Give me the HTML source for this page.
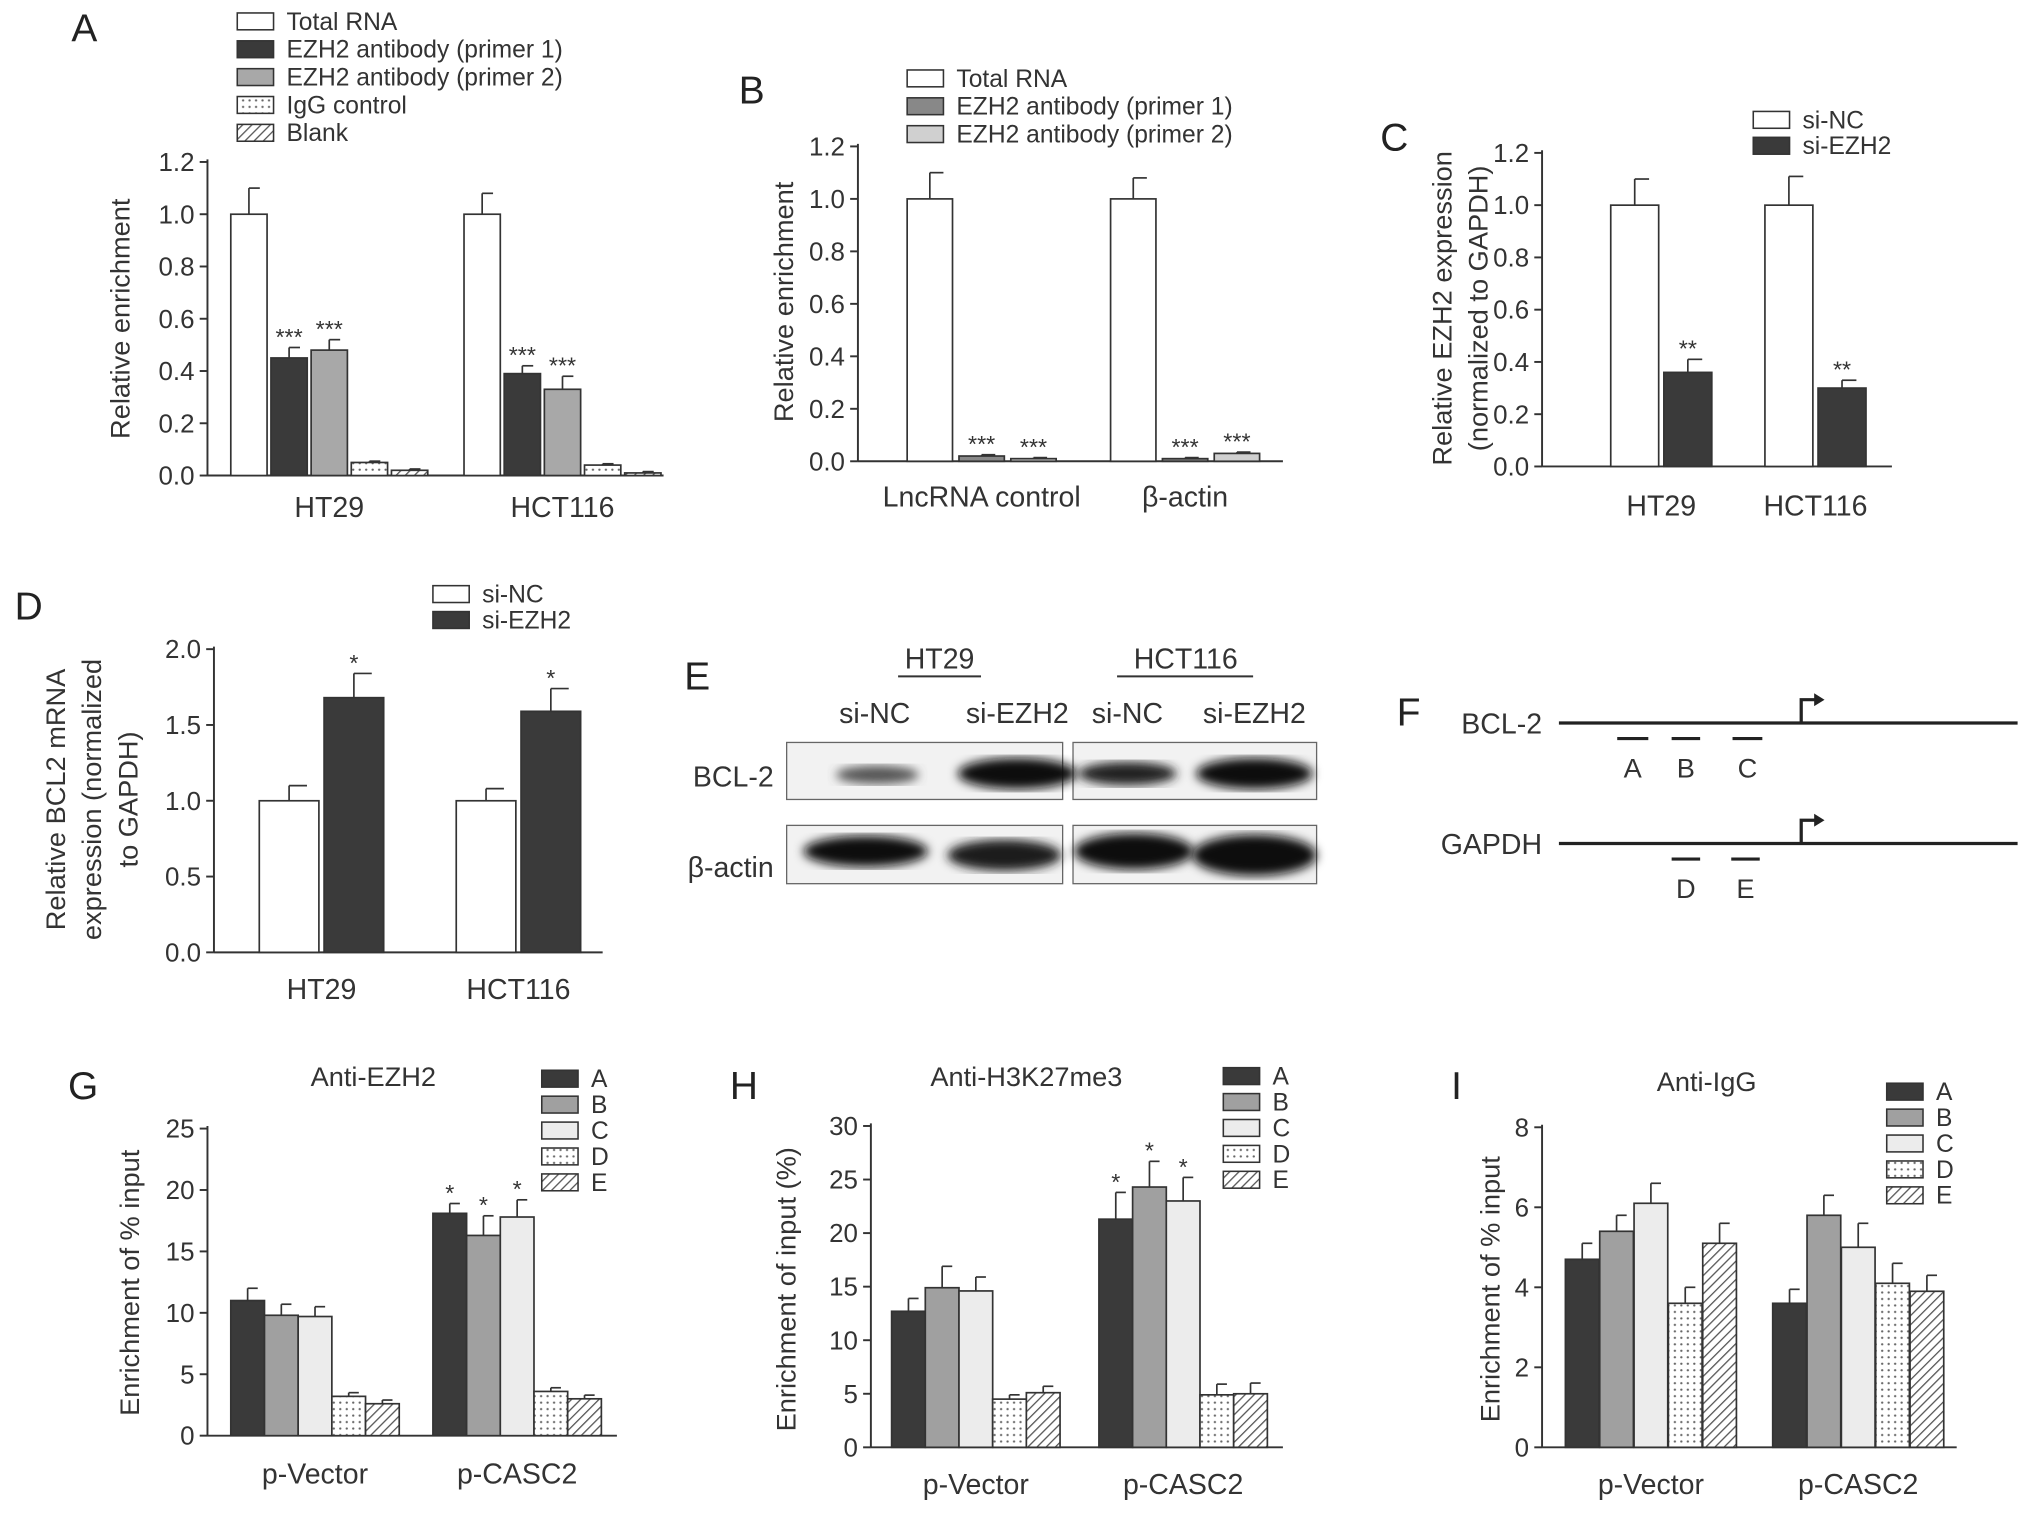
<!DOCTYPE html>
<html><head><meta charset="utf-8"><style>
html,body{margin:0;padding:0;background:#fff}
svg{display:block;font-family:"Liberation Sans",Arial,sans-serif}
</style></head><body>
<svg id="fig" width="2032" height="1516" viewBox="0 0 1568 1170" xmlns="http://www.w3.org/2000/svg">
<defs>
<pattern id="dots" width="5" height="5" patternUnits="userSpaceOnUse"><rect width="5" height="5" fill="#fff"/><circle cx="2.5" cy="2.5" r="0.9" fill="#666"/></pattern>
<pattern id="hatch" width="5" height="5" patternUnits="userSpaceOnUse" patternTransform="rotate(45)"><rect width="5" height="5" fill="#fff"/><line x1="0" y1="0" x2="0" y2="5" stroke="#555" stroke-width="2"/></pattern>
<filter id="blur"><feGaussianBlur stdDeviation="4"/></filter>
</defs>
</svg>
<script>
// ---- data ----
const aGroups=["HT29","HCT116"];
const aSeries=["Total RNA","EZH2 antibody (primer 1)","EZH2 antibody (primer 2)","IgG control","Blank"];
const aVals=[[1.0,0.45,0.48,0.05,0.02],[1.0,0.39,0.33,0.04,0.01]];
const aErr=[[0.1,0.04,0.04,0.005,0.005],[0.08,0.03,0.05,0.005,0.005]];
const aStars=[["","***","***","",""],["","***","***","",""]];
const aTicks=["0.0","0.2","0.4","0.6","0.8","1.0","1.2"];

const bGroups=["LncRNA control","β-actin"];
const bSeries=["Total RNA","EZH2 antibody (primer 1)","EZH2 antibody (primer 2)"];
const bVals=[[1.0,0.02,0.01],[1.0,0.01,0.03]];
const bErr=[[0.1,0.005,0.004],[0.08,0.004,0.005]];
const bStars=[["","***","***"],["","***","***"]];
const bTicks=["0.0","0.2","0.4","0.6","0.8","1.0","1.2"];

const cGroups=["HT29","HCT116"];
const cSeries=["si-NC","si-EZH2"];
const cVals=[[1.0,0.36],[1.0,0.30]];
const cErr=[[0.1,0.05],[0.11,0.03]];
const cStars=[["","**"],["","**"]];
const cTicks=["0.0","0.2","0.4","0.6","0.8","1.0","1.2"];

const dGroups=["HT29","HCT116"];
const dSeries=["si-NC","si-EZH2"];
const dVals=[[1.0,1.68],[1.0,1.59]];
const dErr=[[0.1,0.16],[0.08,0.15]];
const dStars=[["","*"],["","*"]];
const dTicks=["0.0","0.5","1.0","1.5","2.0"];

const gGroups=["p-Vector","p-CASC2"];
const gSeries=["A","B","C","D","E"];
const gVals=[[11.0,9.8,9.7,3.2,2.6],[18.1,16.3,17.8,3.6,3.0]];
const gErr=[[1.0,0.9,0.8,0.3,0.3],[0.8,1.6,1.4,0.3,0.3]];
const gStars=[["","","","",""],["*","*","*","",""]];
const gTicks=["0","5","10","15","20","25"];

const hGroups=["p-Vector","p-CASC2"];
const hSeries=["A","B","C","D","E"];
const hVals=[[12.7,14.9,14.6,4.5,5.1],[21.3,24.3,23.0,4.9,5.0]];
const hErr=[[1.2,2.0,1.3,0.4,0.6],[2.5,2.4,2.2,1.0,1.0]];
const hStars=[["","","","",""],["*","*","*","",""]];
const hTicks=["0","5","10","15","20","25","30"];

const iGroups=["p-Vector","p-CASC2"];
const iSeries=["A","B","C","D","E"];
const iVals=[[4.7,5.4,6.1,3.6,5.1],[3.6,5.8,5.0,4.1,3.9]];
const iErr=[[0.4,0.4,0.5,0.4,0.5],[0.35,0.5,0.6,0.5,0.4]];
const iStars=[["","","","",""],["","","","",""]];
const iTicks=["0","2","4","6","8"];

const svg=document.getElementById('fig');
const NS="http://www.w3.org/2000/svg";
function el(tag,attrs,parent){const e=document.createElementNS(NS,tag);for(const k in attrs)e.setAttribute(k,attrs[k]);(parent||svg).appendChild(e);return e;}
function txt(s,x,y,size,anchor,parent,extra){const t=el('text',Object.assign({x:x,y:y,'font-size':size,'text-anchor':anchor||'middle',fill:'#333'},extra||{}),parent);t.textContent=s;return t;}

const F5=["#3a3a3a","#a0a0a0","#ececec","url(#dots)","url(#hatch)"];
const FA=["#fff","#3a3a3a","#a8a8a8","url(#dots)","url(#hatch)"];
const FB=["#fff","#888","#d0d0d0"];
const F2=["#fff","#3a3a3a"];

function chart(c){
  const g=el('g',{});
  
  
  const ys=v=>c.y0-(v/c.max)*(c.y0-c.yTop);
  el('line',{x1:c.x0,y1:c.yTop-2,x2:c.x0,y2:c.y0,stroke:'#333','stroke-width':1.5},g);
  el('line',{x1:c.x0,y1:c.y0,x2:c.xEnd,y2:c.y0,stroke:'#333','stroke-width':1.5},g);
  c.ticks.forEach((t,i)=>{const y=ys(parseFloat(t));
    el('line',{x1:c.x0-6,y1:y,x2:c.x0,y2:y,stroke:'#333','stroke-width':1.5},g);
    const tl=txt(t,c.x0-10,y+7,20,'end',g);
    
    
  });
  c.groups.forEach((gn,gi)=>{
    const gx=c.gStart[gi];
    c.vals[gi].forEach((v,si)=>{
      const x=gx+si*c.step, y=ys(v), ye=ys(v+c.err[gi][si]), cx=x+c.bw/2;
      const b=el('rect',{x:x,y:y,width:c.bw,height:c.y0-y,fill:c.fills[si],stroke:'#333','stroke-width':1.3},g);
      
      
      el('line',{x1:cx,y1:y,x2:cx,y2:ye,stroke:'#333','stroke-width':1.3},g);
      el('line',{x1:cx,y1:ye,x2:cx+c.bw*0.3,y2:ye,stroke:'#333','stroke-width':1.3},g);
      if(c.stars[gi][si]){const s=txt(c.stars[gi][si],cx,ye-2,18,'middle',g);
        
        }
    });
    const n=c.vals[gi].length, mid=gx+((n-1)*c.step+c.bw)/2;
    const gl=txt(gn,mid,c.y0+c.lblDy,22,'middle',g);
    
    
  });
  c.ytitle.forEach((t,i)=>{const yt=txt(t,0,0,21,'middle',g,{transform:`translate(${c.ytx+i*28},${c.yty}) rotate(-90)`});
    
    });
  c.series.forEach((s,i)=>{const y=c.legY+i*c.legStep;
    const r=el('rect',{x:c.legX,y:y,width:c.legW,height:13,fill:c.fills[i],stroke:'#333','stroke-width':1.2},g);
    
    
    const lt=txt(s,c.legX+c.legW+10,y+13,19,'start',g);
    
    });
  if(c.title){const t=txt(c.title,c.titleX,c.titleY,21,'middle',g);
    
    }
  const L=txt(c.letter,c.letX,c.letY,30,'middle',g,{fill:'#222'});
  
  
}

chart({name:'panel-a-chart',x0:160,y0:367,yTop:125,max:1.2,xEnd:512,ticks:aTicks,groups:aGroups,vals:aVals,err:aErr,stars:aStars,gStart:[178,358],bw:28,step:31,fills:FA,series:aSeries,lblDy:32,ytitle:["Relative enrichment"],ytx:100,yty:246,legX:183,legY:10,legStep:21.5,legW:28,letter:'A',letX:65,letY:32});
chart({name:'panel-b-chart',x0:662,y0:356,yTop:113,max:1.2,xEnd:990,ticks:bTicks,groups:bGroups,vals:bVals,err:bErr,stars:bStars,gStart:[700,857],bw:35,step:40,fills:FB,series:bSeries,lblDy:35,ytitle:["Relative enrichment"],ytx:612,yty:233,legX:700,legY:54,legStep:21.5,legW:28,letter:'B',letX:580,letY:80});
chart({name:'panel-c-chart',x0:1190,y0:360,yTop:118,max:1.2,xEnd:1460,ticks:cTicks,groups:cGroups,vals:cVals,err:cErr,stars:cStars,gStart:[1243,1362],bw:37,step:41,fills:F2,series:cSeries,lblDy:38,ytitle:["Relative EZH2 expression","(normalized to GAPDH)"],ytx:1120,yty:238,legX:1353,legY:86,legStep:20,legW:28,letter:'C',letX:1076,letY:116});
chart({name:'panel-d-chart',x0:165,y0:735,yTop:501,max:2.0,xEnd:465,ticks:dTicks,groups:dGroups,vals:dVals,err:dErr,stars:dStars,gStart:[200,352],bw:46,step:50,fills:F2,series:dSeries,lblDy:36,ytitle:["Relative BCL2 mRNA","expression (normalized","to GAPDH)"],ytx:50,yty:617,legX:334,legY:452,legStep:20,legW:28,letter:'D',letX:22,letY:478});
chart({name:'panel-g-chart',x0:160,y0:1108,yTop:871,max:25,xEnd:476,ticks:gTicks,groups:gGroups,vals:gVals,err:gErr,stars:gStars,gStart:[178,334],bw:26,step:26,fills:F5,series:gSeries,lblDy:37,ytitle:["Enrichment of % input"],ytx:107,yty:990,legX:418,legY:826,legStep:20,legW:28,title:'Anti-EZH2',titleX:288,titleY:838,letter:'G',letX:64,letY:848});
chart({name:'panel-h-chart',x0:672,y0:1117,yTop:869,max:30,xEnd:990,ticks:hTicks,groups:hGroups,vals:hVals,err:hErr,stars:hStars,gStart:[688,848],bw:26,step:26,fills:F5,series:hSeries,lblDy:36,ytitle:["Enrichment of input (%)"],ytx:614,yty:995,legX:944,legY:824,legStep:20,legW:28,title:'Anti-H3K27me3',titleX:792,titleY:838,letter:'H',letX:574,letY:848});
chart({name:'panel-i-chart',x0:1190,y0:1117,yTop:870,max:8,xEnd:1510,ticks:iTicks,groups:iGroups,vals:iVals,err:iErr,stars:iStars,gStart:[1208,1368],bw:26,step:26.5,fills:F5,series:iSeries,lblDy:36,ytitle:["Enrichment of % input"],ytx:1157,yty:995,legX:1456,legY:836,legStep:20,legW:28,title:'Anti-IgG',titleX:1317,titleY:842,letter:'I',letX:1124,letY:848});

// ---- Panel E: western blot ----
const gE=el('g',{});


const LE=txt('E',538,532,30,'middle',gE,{fill:'#222'});


[['HT29',725],['HCT116',915]].forEach(([s,x])=>{const t=txt(s,x,516,22,'middle',gE);
  
  });
el('line',{x1:693,y1:522,x2:757,y2:522,stroke:'#333','stroke-width':1.5},gE);
el('line',{x1:862,y1:522,x2:967,y2:522,stroke:'#333','stroke-width':1.5},gE);
[['si-NC',675],['si-EZH2',785],['si-NC',870],['si-EZH2',968]].forEach(([s,x])=>{const t=txt(s,x,558,22,'middle',gE);
  
  });
[[607,573,213,44],[828,573,188,44],[607,637,213,45],[828,637,188,45]].forEach(b=>{
  const r=el('rect',{x:b[0],y:b[1],width:b[2],height:b[3],fill:'#f2f2f2',stroke:'#666','stroke-width':1},gE);
  
  });
[[677,598,32,7,'#555'],[785,597,46,12,'#111'],[870,597,38,9,'#222'],[968,597,45,12,'#111'],
 [668,657,48,12,'#111'],[775,660,44,12,'#1a1a1a'],[875,657,46,14,'#111'],[968,660,48,16,'#0a0a0a']].forEach(b=>{
  const e=el('ellipse',{cx:b[0],cy:b[1],rx:b[2],ry:b[3],fill:b[4],filter:'url(#blur)'},gE);
  
  });
[['BCL-2',600],['β-actin',670]].forEach(([s,y])=>{const t=txt(s,597,y+7,22,'end',gE);
  
  });

// ---- Panel F: gene diagram ----
const gF=el('g',{});


const LF=txt('F',1087,560,30,'middle',gF,{fill:'#222'});


[['BCL-2',558,[['A',1248,1272],['B',1290,1312],['C',1337,1360]]],['GAPDH',651,[['D',1290,1312],['E',1336,1358]]]].forEach(([g,y,segs])=>{
  const t=txt(g,1190,y+8,22,'end',gF);
  
  
  el('line',{x1:1203,y1:y,x2:1557,y2:y,stroke:'#222','stroke-width':2.5},gF);
  el('path',{d:`M1390 ${y} V${y-18} H1402`,fill:'none',stroke:'#222','stroke-width':2.5},gF);
  el('path',{d:`M1400 ${y-23} L1408 ${y-18} L1400 ${y-13} Z`,fill:'#222'},gF);
  segs.forEach(([s,a,b])=>{el('line',{x1:a,y1:y+12,x2:b,y2:y+12,stroke:'#222','stroke-width':2.5},gF);
    const st=txt(s,(a+b)/2,y+42,21,'middle',gF);
    
    });
});
</script>
</body></html>
